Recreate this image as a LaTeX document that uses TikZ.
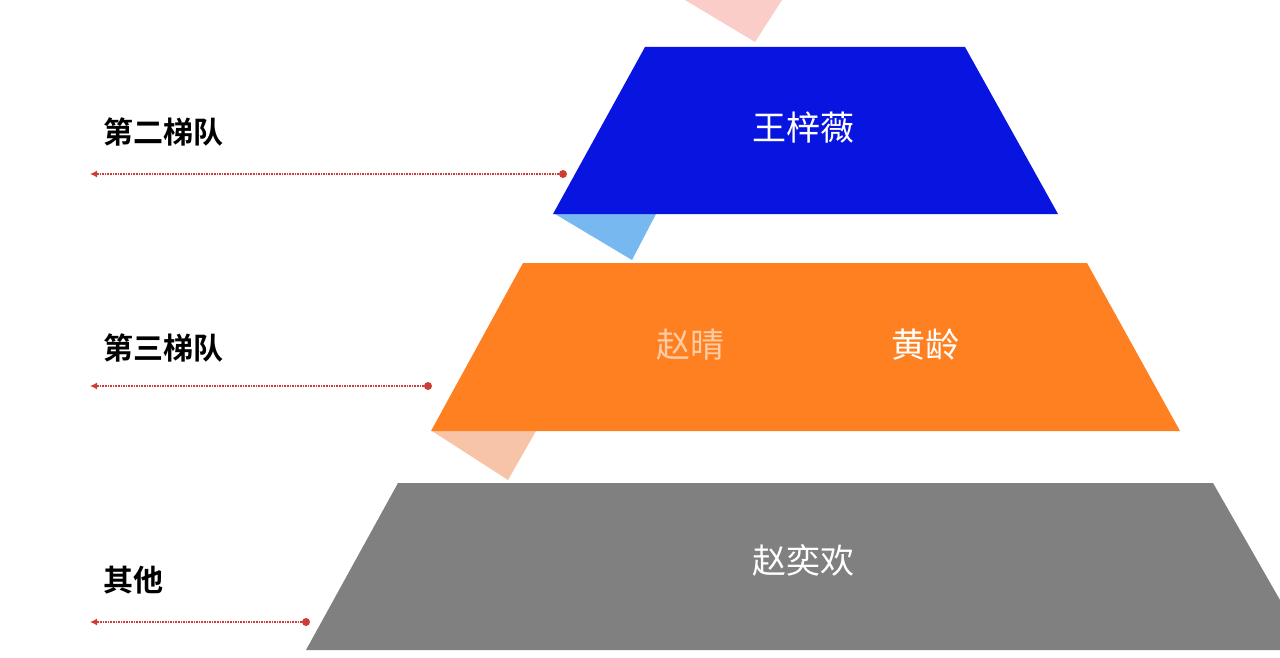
\documentclass[tikz,border=0pt]{standalone}
\usepackage{fontspec}
\setmainfont{Noto Sans CJK SC}
\newfontfamily\cjkb{Noto Sans CJK SC Bold}
\usetikzlibrary{arrows.meta}
\definecolor{tblue}{RGB}{8,20,224}
\definecolor{lblue}{RGB}{120,184,240}
\definecolor{torange}{RGB}{255,128,32}
\definecolor{peach}{RGB}{248,196,168}
\definecolor{pinkish}{RGB}{250,205,200}
\definecolor{tgray}{RGB}{128,128,128}
\definecolor{dred}{RGB}{205,60,55}
\begin{document}
\begin{tikzpicture}[x=1pt,y=-1pt,
  inner/.style={text=white,font=\fontsize{34}{40}\selectfont},
  lbl/.style={font=\cjkb\fontsize{30}{36}\selectfont,text=black},
  lead/.style={dred,densely dotted,line width=1.6pt,-{Latex[length=7pt,width=7pt]}},
  dotc/.style={circle,fill=dred,inner sep=0pt,minimum size=8pt}]
\useasboundingbox[fill=white] (0,0) rectangle (1280,658);
\fill[pinkish] (685,0) -- (782,0) -- (755,42) -- cycle;
\fill[lblue] (555,214) -- (656,214) -- (632,260) -- cycle;
\fill[tblue] (645,47) -- (965,47) -- (1058,214) -- (553,214) -- cycle;
\fill[peach] (432,431) -- (536,431) -- (508,480) -- cycle;
\fill[torange] (523,263) -- (1087,263) -- (1180,431) -- (431,431) -- cycle;
\fill[tgray] (398,483) -- (1213,483) -- (1280,600) -- (1280,650) -- (306,650) -- cycle;
\node[inner] (wang) at (803,128) {王梓薇};
\node[inner,opacity=0.6] (zhao) at (690,345) {赵晴};
\node[inner] (huang) at (925,345) {黄龄};
\node[inner] (zyh) at (803,560) {赵奕欢};
\node[lbl,anchor=west] (l2) at (100,132) {第二梯队};
\node[lbl,anchor=west] (l3) at (100,348) {第三梯队};
\node[lbl,anchor=west] (l4) at (100,580) {其他};
\node[dotc] (d2) at (563,174) {};
\node[dotc] (d3) at (428,386) {};
\node[dotc] (d4) at (306,622) {};
\coordinate (e2) at (90,174);
\coordinate (e3) at (90,386);
\coordinate (e4) at (90,622);
\draw[lead] (d2) -- (e2);
\draw[lead] (d3) -- (e3);
\draw[lead] (d4) -- (e4);
\end{tikzpicture}
\end{document}
